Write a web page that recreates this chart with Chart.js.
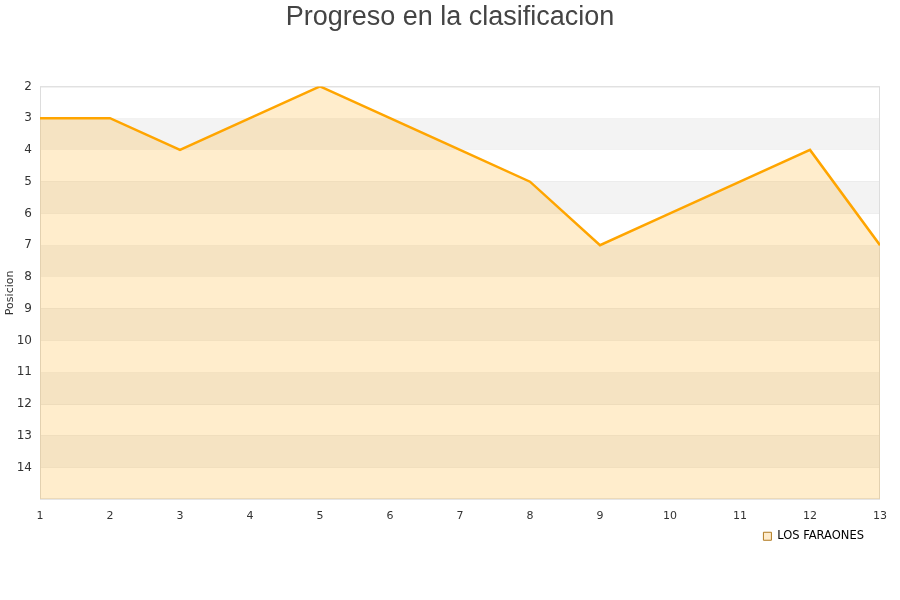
<!DOCTYPE html>
<html>
<head>
<meta charset="utf-8">
<script src="https://cdn.jsdelivr.net/npm/chart.js@4/dist/chart.umd.min.js"></script>
<style>
  body { margin: 0; background: #fff; }
  #wrap { width: 900px; height: 600px; }
</style>
</head>
<body>
<div id="wrap"><canvas id="myChart"></canvas></div>
<script>
const jornadas = [1, 2, 3, 4, 5, 6, 7, 8, 9, 10, 11, 12, 13];
const posiciones = [3, 3, 4, 3, 2, 3, 4, 5, 7, 6, 5, 4, 7];
const equipo = 'LOS FARAONES';

// alternate grey bands + frame around the plot
const bands = {
  id: 'bands',
  afterLayout(chart) {
    // center the title on the whole canvas, not on the padded box
    const t = chart.titleBlock;
    if (t) { t.left = 0; t.right = chart.width; t.width = chart.width; }
    const l = chart.legend;
    if (l) { l.right -= 10; }
  },
  beforeDatasetsDraw(chart) {
    const { ctx, chartArea: a, scales: { y } } = chart;
    ctx.save();
    ctx.fillStyle = '#f3f3f3';
    for (let v = 3; v < 15; v += 2) {
      const top = y.getPixelForValue(v);
      const bot = y.getPixelForValue(v + 1);
      ctx.fillRect(a.left, top, a.right - a.left, bot - top);
    }
    ctx.strokeStyle = '#dddddd';
    ctx.lineWidth = 1;
    ctx.strokeRect(a.left + 0.5, a.top + 0.5, a.right - a.left - 1, a.bottom - a.top - 1);
    ctx.restore();
  }
};

const myChart = new Chart(document.getElementById('myChart').getContext('2d'), {
  type: 'line',
  data: {
    datasets: [{
      label: equipo,
      data: jornadas.map((j, i) => ({ x: j, y: posiciones[i] })),
      borderColor: '#ffa500',
      backgroundColor: 'rgba(255,165,0,0.2)',
      borderWidth: 2.5,
      pointRadius: 0,
      tension: 0,
      fill: 'start'
    }]
  },
  options: {
    responsive: true,
    maintainAspectRatio: false,
    animation: false,
    layout: { padding: { left: 0, right: 20, top: 0, bottom: 48 } },
    plugins: {
      title: {
        display: true,
        text: 'Progreso en la clasificacion',
        color: '#444',
        font: { family: 'Liberation Sans', size: 27, weight: 'normal' },
        padding: { top: 1, bottom: 53 }
      },
      legend: {
        position: 'bottom',
        align: 'end',
        labels: {
          color: '#222',
          font: { family: 'DejaVu Sans', size: 11.5 },
          boxWidth: 8,
          boxHeight: 8,
          padding: 6,
          generateLabels: chart => [{
            text: equipo,
            fillStyle: '#ffeccc',
            strokeStyle: '#b07a20',
            lineWidth: 1,
            datasetIndex: 0
          }]
        }
      },
      tooltip: { enabled: false }
    },
    scales: {
      x: {
        type: 'linear',
        min: 1,
        max: 13,
        ticks: { stepSize: 1, color: '#333', font: { family: 'DejaVu Sans', size: 11 }, padding: 2 },
        grid: { display: false },
        border: { display: false }
      },
      y: {
        reverse: true,
        min: 2,
        max: 15,
        afterFit: s => { s.width = 40; },
        title: {
          display: true,
          text: 'Posicion',
          color: '#333',
          font: { family: 'DejaVu Sans', size: 11 },
          padding: { top: 4, bottom: 0 }
        },
        ticks: {
          stepSize: 1,
          color: '#333',
          font: { family: 'DejaVu Sans', size: 12 },
          padding: 8,
          callback: v => (v === 15 ? '' : v)
        },
        grid: { color: 'rgba(0,0,0,0.09)', drawTicks: false },
        border: { display: false }
      }
    }
  },
  plugins: [bands]
});
</script>
</body>
</html>
